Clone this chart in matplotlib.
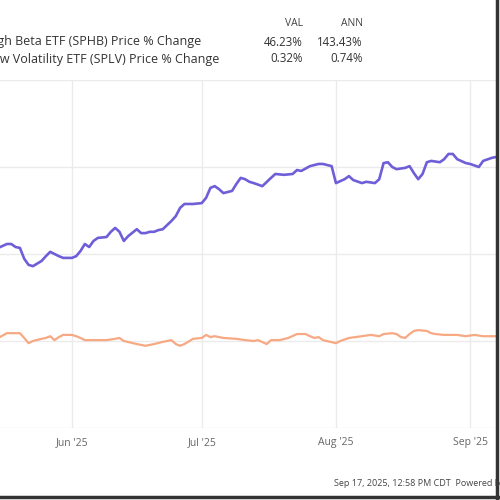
import matplotlib
matplotlib.use('Agg')
import matplotlib.pyplot as plt
import pandas as pd
from matplotlib.lines import Line2D

plt.rcParams['font.family'] = ['Open Sans', 'DejaVu Sans']

# SPHB price % change
sphb_dates = ["2025-05-15", "2025-05-17", "2025-05-18", "2025-05-19", "2025-05-20", "2025-05-21", "2025-05-22",
              "2025-05-23", "2025-05-25", "2025-05-26", "2025-05-27", "2025-05-28", "2025-05-29", "2025-05-30",
              "2025-06-01", "2025-06-02", "2025-06-03", "2025-06-04", "2025-06-05", "2025-06-06", "2025-06-07",
              "2025-06-09", "2025-06-10", "2025-06-11", "2025-06-12", "2025-06-13", "2025-06-14", "2025-06-16",
              "2025-06-17", "2025-06-18", "2025-06-19", "2025-06-20", "2025-06-21", "2025-06-22", "2025-06-24",
              "2025-06-25", "2025-06-26", "2025-06-27", "2025-06-28", "2025-06-29", "2025-07-01", "2025-07-02",
              "2025-07-03", "2025-07-04", "2025-07-05", "2025-07-06", "2025-07-08", "2025-07-09", "2025-07-10",
              "2025-07-11", "2025-07-12", "2025-07-13", "2025-07-15", "2025-07-17", "2025-07-18", "2025-07-20",
              "2025-07-22", "2025-07-23", "2025-07-24", "2025-07-26", "2025-07-28", "2025-07-29", "2025-07-31",
              "2025-08-01", "2025-08-03", "2025-08-04", "2025-08-05", "2025-08-07", "2025-08-08", "2025-08-10",
              "2025-08-11", "2025-08-12", "2025-08-13", "2025-08-14", "2025-08-15", "2025-08-17", "2025-08-18",
              "2025-08-19", "2025-08-20", "2025-08-21", "2025-08-22", "2025-08-23", "2025-08-25", "2025-08-26",
              "2025-08-27", "2025-08-28", "2025-08-29", "2025-08-31", "2025-09-01", "2025-09-03", "2025-09-04",
              "2025-09-06", "2025-09-07"]
sphb_pct = [21.4, 22.3, 22.3, 21.6, 21.4, 18.9, 17.5, 17.2, 18.4, 19.5, 20.5, 20.0, 19.5, 19.1,
            19.1, 19.5, 20.7, 22.3, 21.6, 23.0, 23.7, 23.9, 25.1, 26.0, 25.1, 23.0, 24.1, 25.7, 24.8, 24.8,
            25.1, 25.1, 25.5, 25.7, 27.6, 28.7, 30.6, 31.5, 31.5, 31.5,
            31.7, 32.9, 35.2, 35.6, 34.9, 34.0, 34.5, 36.1, 37.5, 37.2, 36.6, 36.3, 35.6, 37.5, 38.4, 38.2,
            38.4, 39.3, 39.1, 40.2, 40.7, 40.7, 40.2,
            36.3, 37.2, 37.9, 37.0, 36.3, 36.6, 36.3, 37.2, 40.9, 41.1, 40.0, 39.5, 39.8, 40.2, 38.6, 37.2,
            38.4, 41.1, 41.4, 41.1, 41.8, 43.0, 43.0, 41.8, 40.9,
            40.7, 40.0, 41.4, 42.1, 42.3]

# SPLV price % change
splv_dates = ["2025-05-15", "2025-05-17", "2025-05-18", "2025-05-20", "2025-05-21", "2025-05-22", "2025-05-23",
              "2025-05-25", "2025-05-26", "2025-05-27", "2025-05-28", "2025-05-29", "2025-05-30",
              "2025-06-01", "2025-06-02", "2025-06-03", "2025-06-04", "2025-06-06", "2025-06-09", "2025-06-11",
              "2025-06-12", "2025-06-13", "2025-06-16", "2025-06-18", "2025-06-20", "2025-06-22", "2025-06-24",
              "2025-06-25", "2025-06-26", "2025-06-27", "2025-06-29",
              "2025-07-01", "2025-07-02", "2025-07-03", "2025-07-04", "2025-07-06", "2025-07-09", "2025-07-11",
              "2025-07-13", "2025-07-14", "2025-07-16", "2025-07-17", "2025-07-19", "2025-07-21", "2025-07-23",
              "2025-07-24", "2025-07-25", "2025-07-26", "2025-07-27", "2025-07-28", "2025-07-29",
              "2025-08-01", "2025-08-02", "2025-08-04", "2025-08-07", "2025-08-09", "2025-08-11", "2025-08-12",
              "2025-08-14", "2025-08-15", "2025-08-16", "2025-08-17", "2025-08-18", "2025-08-19", "2025-08-20",
              "2025-08-22", "2025-08-23", "2025-08-24", "2025-08-26", "2025-08-29", "2025-08-31",
              "2025-09-02", "2025-09-04", "2025-09-07"]
splv_pct = [0.7, 1.8, 1.8, 1.8, 0.7, -0.5, 0.0, 0.5, 0.7, 1.1, 0.2, 0.9, 1.4,
            1.4, 1.1, 0.7, 0.2, 0.2, 0.2, 0.5, 0.7, 0.0, -0.7, -1.1, -0.7, -0.2, 0.2, -0.7, -1.1, -0.7, 0.5,
            0.7, 1.4, 0.9, 1.1, 0.7, 0.5, 0.2, 0.0, 0.2, -0.7, 0.2, 0.2, 0.7, 1.6, 1.6, 1.6, 1.1, 0.7, 0.9, 0.2,
            -0.5, 0.0, 0.7, 1.1, 1.4, 1.1, 1.6, 1.8, 1.6, 0.9, 0.7, 1.6, 2.3, 2.5, 2.3, 1.8, 1.6, 1.4, 1.4, 1.1,
            1.4, 1.1, 1.1]

tick_dates = ["2025-06-01", "2025-07-01", "2025-08-01", "2025-09-01"]
tick_labels = ["Jun '25", "Jul '25", "Aug '25", "Sep '25"]
y_grid = [-20, 0, 20, 40, 60]

series_names = ["Invesco S&P 500 High Beta ETF (SPHB) Price % Change",
                "Invesco S&P 500 Low Volatility ETF (SPLV) Price % Change"]
val_labels = ["46.23%", "0.32%"]
ann_labels = ["143.43%", "0.74%"]
footer = "Sep 17, 2025, 12:58 PM CDT  Powered by YCharts"

blue = '#6e5ed8'
orange = '#f6a982'

fig = plt.figure(figsize=(5, 5), dpi=100)
ax = fig.add_axes([0, 0.144, 0.994, 0.696])

ax.plot(pd.to_datetime(sphb_dates), sphb_pct, color=blue, lw=1.9, solid_joinstyle='round')
ax.plot(pd.to_datetime(splv_dates), splv_pct, color=orange, lw=1.6, solid_joinstyle='round')

jun1 = pd.Timestamp("2025-06-01")
ax.set_xlim(jun1 - pd.Timedelta(days=16.6), jun1 + pd.Timedelta(days=98.2))
ax.set_ylim(-20, 60)

ax.set_xticks(pd.to_datetime(tick_dates))
ax.set_xticklabels(tick_labels)
ax.set_yticks(y_grid)
ax.tick_params(axis='x', length=0, pad=6.5, labelsize=7.5, labelcolor='#666666')
ax.tick_params(axis='y', length=0, labelleft=False)
ax.grid(True, color='#ebebeb', lw=1)
ax.set_axisbelow(True)
for s in ax.spines.values():
    s.set_visible(False)

# header table (the series names run off the left edge, as in the source image)
fig.text(303 / 500, 1 - 24 / 500, "VAL", ha='right', va='center', fontsize=7.5, color='#444444')
fig.text(363 / 500, 1 - 24 / 500, "ANN", ha='right', va='center', fontsize=7.5, color='#444444')
name_right = [201, 219]
for i, name in enumerate(series_names):
    yy = 1 - (42 + 17 * i) / 500
    fig.text(name_right[i] / 500, yy, name, ha='right', va='center', fontsize=9, color='#333333')
    fig.text(303 / 500, yy, val_labels[i], ha='right', va='center', fontsize=8.3, color='#333333')
    fig.text(363 / 500, yy, ann_labels[i], ha='right', va='center', fontsize=8.3, color='#333333')

fig.text(334 / 500, 1 - 484 / 500, footer, ha='left', va='center', fontsize=6.5, color='#444444')

# dark frame on right and bottom edges
fig.add_artist(Line2D([0.994, 0.994], [0, 1], transform=fig.transFigure, color='#333333', lw=2.5))
fig.add_artist(Line2D([0, 1], [0.006, 0.006], transform=fig.transFigure, color='#333333', lw=2.5))

fig.savefig('out.png', dpi=100)
